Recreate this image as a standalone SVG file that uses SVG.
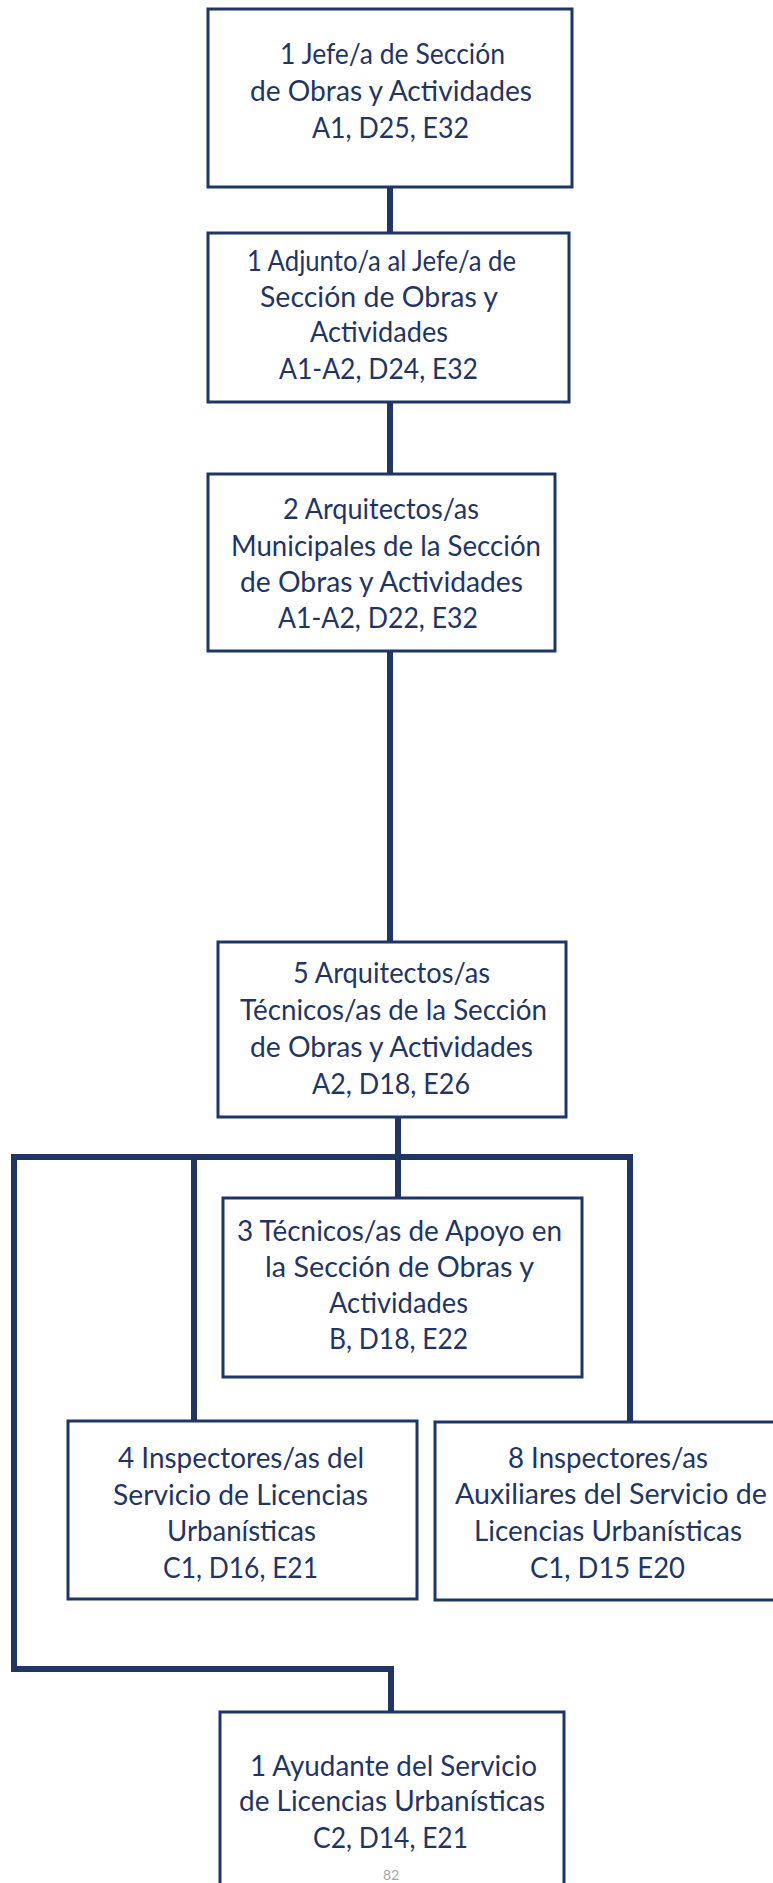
<svg xmlns="http://www.w3.org/2000/svg" width="773" height="1883" viewBox="0 0 773 1883">
<style>
.box{fill:#ffffff;stroke:#1f3566;stroke-width:3}
.con{fill:none;stroke:#1f3566;stroke-width:6;stroke-linejoin:miter;stroke-linecap:square}
text{font-family:Lato,"Open Sans","Liberation Sans",sans-serif;font-size:29px;fill:#1f3566}
.pg{font-size:14px;fill:#a6a6a6}
</style>
<rect width="773" height="1883" fill="#ffffff"/>
<g id="connectors">
<line class="con" x1="390" y1="187" x2="390" y2="233"/>
<line class="con" x1="390" y1="402" x2="390" y2="474"/>
<line class="con" x1="390" y1="651" x2="390" y2="942"/>
<line class="con" x1="398" y1="1117" x2="398" y2="1198"/>
<polyline class="con" points="194,1421 194,1157 14,1157 14,1669 391,1669 391,1712"/>
<polyline class="con" points="194,1157 630,1157 630,1422"/>
</g>
<g id="n1">
<rect class="box" x="208" y="9" width="364" height="178"/>
<text x="280" y="64" textLength="225" lengthAdjust="spacingAndGlyphs">1 Jefe/a de Sección</text>
<text x="250" y="101" textLength="282" lengthAdjust="spacingAndGlyphs">de Obras y Actividades</text>
<text x="312" y="138" textLength="157" lengthAdjust="spacingAndGlyphs">A1, D25, E32</text>
</g>
<g id="n2">
<rect class="box" x="208" y="233" width="361" height="169"/>
<text x="247" y="271" textLength="269" lengthAdjust="spacingAndGlyphs">1 Adjunto/a al Jefe/a de</text>
<text x="260" y="307" textLength="238" lengthAdjust="spacingAndGlyphs">Sección de Obras y</text>
<text x="310" y="342" textLength="138" lengthAdjust="spacingAndGlyphs">Actividades</text>
<text x="279" y="379" textLength="199" lengthAdjust="spacingAndGlyphs">A1-A2, D24, E32</text>
</g>
<g id="n3">
<rect class="box" x="208" y="474" width="347" height="177"/>
<text x="283" y="519" textLength="196" lengthAdjust="spacingAndGlyphs">2 Arquitectos/as</text>
<text x="231" y="556" textLength="310" lengthAdjust="spacingAndGlyphs">Municipales de la Sección</text>
<text x="240" y="592" textLength="283" lengthAdjust="spacingAndGlyphs">de Obras y Actividades</text>
<text x="278" y="628" textLength="200" lengthAdjust="spacingAndGlyphs">A1-A2, D22, E32</text>
</g>
<g id="n4">
<rect class="box" x="218" y="942" width="348" height="175"/>
<text x="293" y="983" textLength="197" lengthAdjust="spacingAndGlyphs">5 Arquitectos/as</text>
<text x="240" y="1020" textLength="307" lengthAdjust="spacingAndGlyphs">Técnicos/as de la Sección</text>
<text x="250" y="1057" textLength="283" lengthAdjust="spacingAndGlyphs">de Obras y Actividades</text>
<text x="312" y="1094" textLength="158" lengthAdjust="spacingAndGlyphs">A2, D18, E26</text>
</g>
<g id="n5">
<rect class="box" x="223" y="1198" width="359" height="179"/>
<text x="237" y="1241" textLength="325" lengthAdjust="spacingAndGlyphs">3 Técnicos/as de Apoyo en</text>
<text x="265" y="1277" textLength="269" lengthAdjust="spacingAndGlyphs">la Sección de Obras y</text>
<text x="329" y="1313" textLength="139" lengthAdjust="spacingAndGlyphs">Actividades</text>
<text x="329" y="1349" textLength="139" lengthAdjust="spacingAndGlyphs">B, D18, E22</text>
</g>
<g id="n6">
<rect class="box" x="68" y="1421" width="349" height="178"/>
<text x="118" y="1468" textLength="246" lengthAdjust="spacingAndGlyphs">4 Inspectores/as del</text>
<text x="113" y="1505" textLength="255" lengthAdjust="spacingAndGlyphs">Servicio de Licencias</text>
<text x="167" y="1541" textLength="149" lengthAdjust="spacingAndGlyphs">Urbanísticas</text>
<text x="163" y="1578" textLength="155" lengthAdjust="spacingAndGlyphs">C1, D16, E21</text>
</g>
<g id="n7">
<rect class="box" x="435" y="1422" width="345" height="178"/>
<text x="508" y="1468" textLength="200" lengthAdjust="spacingAndGlyphs">8 Inspectores/as</text>
<text x="455" y="1504" textLength="312" lengthAdjust="spacingAndGlyphs">Auxiliares del Servicio de</text>
<text x="474" y="1541" textLength="268" lengthAdjust="spacingAndGlyphs">Licencias Urbanísticas</text>
<text x="530" y="1578" textLength="155" lengthAdjust="spacingAndGlyphs">C1, D15 E20</text>
</g>
<g id="n8">
<rect class="box" x="220" y="1712" width="344" height="200"/>
<text x="250" y="1776" textLength="287" lengthAdjust="spacingAndGlyphs">1 Ayudante del Servicio</text>
<text x="239" y="1811" textLength="306" lengthAdjust="spacingAndGlyphs">de Licencias Urbanísticas</text>
<text x="313" y="1848" textLength="155" lengthAdjust="spacingAndGlyphs">C2, D14, E21</text>
</g>
<text class="pg" x="391" y="1880" text-anchor="middle">82</text>
</svg>
